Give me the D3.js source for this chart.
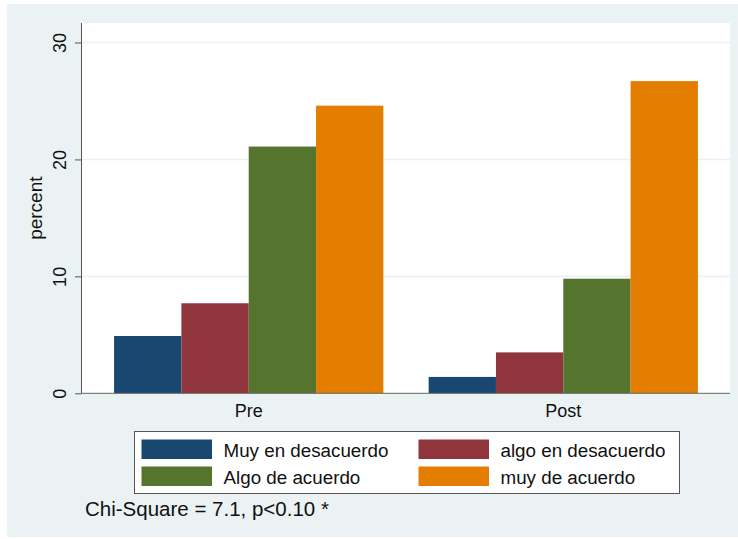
<!DOCTYPE html>
<html>
<head>
<meta charset="utf-8">
<script src="https://cdn.jsdelivr.net/npm/d3@7"></script>
<style>
  html, body { margin: 0; padding: 0; background: #ffffff; }
  svg { display: block; font-family: "Liberation Sans", Arial, sans-serif; }
</style>
</head>
<body>
<svg id="chart" width="738" height="539"></svg>
<script>
// Survey responses, percent of all answers, by time point
const groups = ["Pre", "Post"];
const seriesNames = ["Muy en desacuerdo", "algo en desacuerdo", "Algo de acuerdo", "muy de acuerdo"];
const preValues = [4.9, 7.7, 21.1, 24.6];
const postValues = [1.4, 3.5, 9.8, 26.7];
const seriesColors = ["#1a476f", "#90353b", "#55752f", "#e37e00"];
const yTicks = [0, 10, 20, 30];
const yTitle = "percent";
const note = "Chi-Square = 7.1, p<0.10 *";

const valuesByGroup = { Pre: preValues, Post: postValues };
const rows = [];
groups.forEach(g => seriesNames.forEach((s, i) => rows.push({ group: g, series: s, value: valuesByGroup[g][i] })));

const svg = d3.select("#chart");

// Outer graph region
svg.append("rect").attr("x", 7).attr("y", 4).attr("width", 731).attr("height", 533).attr("fill", "#eaf2f3");

// Plot region
const plot = { left: 82, right: 730, top: 23, bottom: 393.3 };
svg.append("rect")
  .attr("x", plot.left).attr("y", plot.top)
  .attr("width", plot.right - plot.left).attr("height", plot.bottom - plot.top)
  .attr("fill", "#ffffff");

const y = d3.scaleLinear().domain([0, 30]).range([plot.bottom, 42.5]);

const x0 = d3.scaleBand().domain(groups).range([plot.left, plot.right]).paddingInner(0.144).paddingOuter(0.102);
const x1 = d3.scaleBand().domain(seriesNames).range([0, x0.bandwidth()]).padding(0);
const color = d3.scaleOrdinal().domain(seriesNames).range(seriesColors);

// Horizontal gridlines
svg.append("g").selectAll("line").data(yTicks.filter(t => t > 0)).join("line")
  .attr("x1", plot.left).attr("x2", plot.right)
  .attr("y1", d => y(d)).attr("y2", d => y(d))
  .attr("stroke", "#eaf2f3").attr("stroke-width", 1.6);

// Bars
svg.append("g").selectAll("rect").data(rows).join("rect")
  .attr("x", d => x0(d.group) + x1(d.series))
  .attr("width", x1.bandwidth())
  .attr("y", d => y(d.value))
  .attr("height", d => y(0) - y(d.value))
  .attr("fill", d => color(d.series));

// Baseline along the bottom of the plot
svg.append("line")
  .attr("x1", plot.left).attr("x2", plot.right)
  .attr("y1", plot.bottom).attr("y2", plot.bottom)
  .attr("stroke", "#666").attr("stroke-width", 1);

// Y axis
const yAxis = d3.axisLeft(y).tickValues(yTicks).tickSize(7).tickPadding(0).tickFormat(d3.format("d"));
const gy = svg.append("g").attr("transform", `translate(${plot.left},0)`).call(yAxis);
gy.select(".domain").attr("d", `M-0.5,${plot.top}V${plot.bottom}`).attr("stroke", "#555");
gy.selectAll(".tick line").attr("stroke", "#555");
gy.selectAll(".tick text")
  .attr("font-size", 18).attr("fill", "#111")
  .attr("font-family", "Liberation Sans, Arial, sans-serif")
  .attr("text-anchor", "middle")
  .attr("dy", 0)
  .attr("x", 0)
  .attr("transform", "translate(-16.5,0) rotate(-90)");

// Y axis title
svg.append("text")
  .attr("transform", `translate(42,${(plot.top + plot.bottom) / 2}) rotate(-90)`)
  .attr("text-anchor", "middle").attr("font-size", 19).attr("fill", "#111")
  .text(yTitle);

// Group labels
svg.append("g").selectAll("text").data(groups).join("text")
  .attr("x", d => x0(d) + x0.bandwidth() / 2)
  .attr("y", 417)
  .attr("text-anchor", "middle").attr("font-size", 18).attr("fill", "#111")
  .text(d => d);

// Legend
const legend = svg.append("g");
legend.append("rect")
  .attr("x", 134.5).attr("y", 431.5).attr("width", 545).attr("height", 62)
  .attr("fill", "#ffffff").attr("stroke", "#555").attr("stroke-width", 1);
const legendCols = [141.5, 418.5];
const legendRows = [439.5, 466.5];
const items = legend.selectAll("g.item").data(seriesNames).join("g")
  .attr("class", "item")
  .attr("transform", (d, i) => `translate(${legendCols[i % 2]},${legendRows[Math.floor(i / 2)]})`);
items.append("rect")
  .attr("width", 70.5).attr("height", 19.5)
  .attr("fill", d => color(d));
items.append("text")
  .attr("x", 82).attr("y", 17)
  .attr("font-size", 18.8).attr("fill", "#111")
  .text(d => d);

// Note below the legend
svg.append("text")
  .attr("x", 85).attr("y", 516)
  .attr("font-size", 20.5).attr("fill", "#111")
  .text(note);
</script>
</body>
</html>
